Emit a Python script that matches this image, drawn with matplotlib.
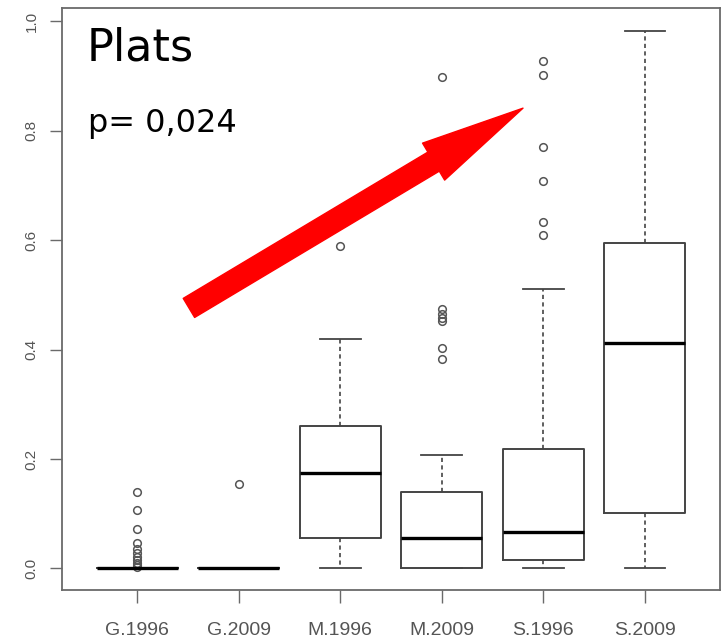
import matplotlib
matplotlib.use('Agg')
import matplotlib.pyplot as plt

# groups on the x axis
groups = ['G.1996', 'G.2009', 'M.1996', 'M.2009', 'S.1996', 'S.2009']

# box statistics
whislo = [0.0, 0.0, 0.0, 0.0, 0.0, 0.0]
q1 = [0.0, 0.0, 0.055, 0.0, 0.015, 0.102]
med = [0.0, 0.0, 0.175, 0.055, 0.066, 0.412]
q3 = [0.0, 0.0, 0.261, 0.139, 0.219, 0.595]
whishi = [0.0, 0.0, 0.42, 0.208, 0.511, 0.982]
outliers = [
    [0.139, 0.107, 0.072, 0.047, 0.036, 0.028, 0.020, 0.015, 0.010, 0.006, 0.003],
    [0.155],
    [0.59],
    [0.898, 0.474, 0.465, 0.458, 0.453, 0.403, 0.383],
    [0.927, 0.902, 0.770, 0.708, 0.633, 0.609],
    [],
]

title_text = 'Plats'
p_text = 'p= 0,024'

# arrow from tail to tip, in data units
arrow_tail = (1.51, 0.476)
arrow_tip = (4.80, 0.841)

stats = []
for i, g in enumerate(groups):
    stats.append(dict(label=g, whislo=whislo[i], q1=q1[i], med=med[i],
                      q3=q3[i], whishi=whishi[i], fliers=outliers[i]))

fig = plt.figure(figsize=(7.22, 6.38), dpi=100)
ax = fig.add_axes([62 / 722, 48 / 638, 658 / 722, 582 / 638])

line_col = '#444444'
ax.bxp(stats, positions=range(1, 7), widths=0.8, capwidths=0.4,
       boxprops=dict(color=line_col, linewidth=1.4),
       medianprops=dict(color='black', linewidth=2.4),
       whiskerprops=dict(color=line_col, linewidth=1.2, linestyle=(0, (2.5, 2))),
       capprops=dict(color=line_col, linewidth=1.3),
       flierprops=dict(marker='o', markerfacecolor='none', markeredgecolor='#555555',
                       markersize=5.5, markeredgewidth=1.1))

ax.set_xlim(0.26, 6.74)
ax.set_ylim(-0.0394, 1.024)
ax.set_yticks([0.0, 0.2, 0.4, 0.6, 0.8, 1.0])
ax.set_yticklabels(['0.0', '0.2', '0.4', '0.6', '0.8', '1.0'], rotation=90, va='center')
ax.set_xticks(range(1, 7))
ax.set_xticklabels(groups)

for sp in ax.spines.values():
    sp.set_color('#6a6a6a')
    sp.set_linewidth(1.3)
ax.tick_params(axis='both', colors='#6a6a6a', length=9, width=1.0)
ax.tick_params(axis='x', labelsize=14, labelcolor='#555555', pad=14)
ax.tick_params(axis='y', labelsize=11, labelcolor='#555555', pad=8)
for lab in ax.get_xticklabels() + ax.get_yticklabels():
    lab.set_family('Liberation Sans')

ax.text(0.038, 0.909, title_text, transform=ax.transAxes, fontsize=32,
        va='baseline', ha='left', color='black')
ax.text(0.040, 0.787, p_text, transform=ax.transAxes, fontsize=23,
        va='baseline', ha='left', color='black')

ax.annotate('', xy=arrow_tip, xytext=arrow_tail,
            arrowprops=dict(arrowstyle='simple,head_length=75,head_width=31,tail_width=16',
                            mutation_scale=1, color='red', shrinkA=0, shrinkB=0))

fig.savefig('out.png', dpi=100)
